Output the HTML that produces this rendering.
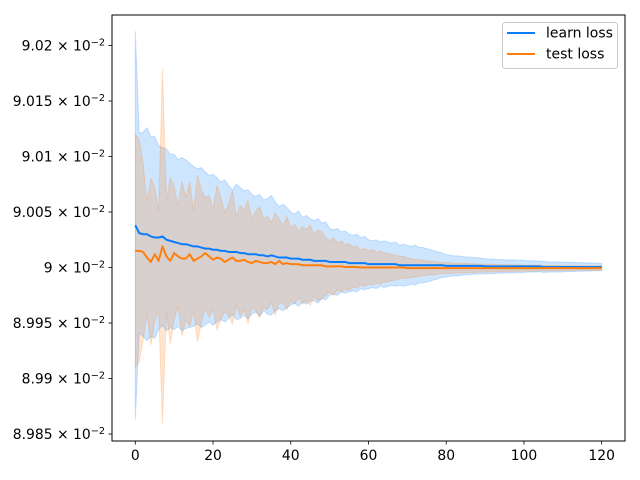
<!DOCTYPE html>
<html><head><meta charset="utf-8"><style>
html,body{margin:0;padding:0;background:#fff;}
svg{display:block;font-family:"DejaVu Sans","Liberation Sans",sans-serif;}
</style></head><body>
<svg id="chart" width="640" height="480" viewBox="0 0 640 480" xmlns="http://www.w3.org/2000/svg">
<rect x="0" y="0" width="640" height="480" fill="#fff"/>
<g id="plot"></g>
<rect x="112" y="15" width="513" height="426" fill="none" stroke="#000" stroke-width="1"/>
<g id="xticks"></g>
<g id="yticks"></g>
<g>
<rect x="502.5" y="22.5" width="115" height="46" rx="3" fill="#fff" fill-opacity="0.8" stroke="#ccc"/>
<line x1="507" y1="33" x2="535" y2="33" stroke="#0a7dfc" stroke-width="2"/>
<text x="546" y="37.5" font-size="14">learn loss</text>
<line x1="507" y1="54" x2="535" y2="54" stroke="#ff7f0e" stroke-width="2"/>
<text x="546" y="58.5" font-size="14">test loss</text>
</g>
</svg>
<script>
// values are in units of 1e-5, offset from base 0.09
const BASE = 0.09;
const UNIT = 1e-5;
const learnMean = [3.8,3.1,3.0,3.0,2.8,2.7,2.7,2.8,2.5,2.4,
2.3,2.2,2.1,2.1,2.0,1.9,1.9,1.8,1.7,1.7,
1.6,1.6,1.5,1.5,1.4,1.4,1.4,1.3,1.3,1.2,
1.2,1.2,1.1,1.1,1.0,1.1,1.0,0.9,0.9,0.9,
0.8,0.8,0.8,0.7,0.7,0.7,0.6,0.6,0.6,0.6,
0.5,0.5,0.5,0.5,0.5,0.4,0.4,0.4,0.4,0.4,
0.3,0.3,0.3,0.3,0.3,0.3,0.3,0.3,0.2,0.2,
0.2,0.2,0.2,0.2,0.2,0.2,0.2,0.2,0.2,0.2,
0.15,0.15,0.15,0.15,0.15,0.15,0.15,0.15,0.15,0.15,
0.1,0.1,0.1,0.1,0.1,0.1,0.1,0.1,0.1,0.1,
0.1,0.1,0.1,0.1,0.1,0.05,0.05,0.05,0.05,0.05,
0.05,0.05,0.05,0.05,0.05,0.05,0.05,0.05,0.05,0.05,0.05];
const learnStd = [17.5,9.0,9.2,9.6,9.0,9.1,8.3,8.0,8.2,7.8,
7.9,7.5,7.8,7.6,7.4,7.2,7.0,7.2,6.9,6.6,
6.8,6.5,6.2,6.4,6.0,5.6,6.1,5.9,5.6,5.8,
5.4,5.2,5.5,5.0,5.2,5.4,4.9,4.6,4.8,4.5,
4.2,4.0,4.3,3.8,4.0,3.7,3.6,3.8,3.4,3.5,
3.0,2.9,3.0,2.7,2.8,2.6,2.5,2.6,2.3,2.4,
2.2,2.1,2.2,2.0,2.1,2.0,1.9,2.0,1.8,1.9,
1.8,1.7,1.8,1.6,1.6,1.5,1.4,1.3,1.2,1.1,
1.0,0.95,0.9,0.9,0.85,0.8,0.8,0.75,0.75,0.7,
0.7,0.65,0.68,0.6,0.62,0.6,0.58,0.6,0.55,0.56,
0.55,0.5,0.52,0.5,0.48,0.5,0.46,0.45,0.47,0.44,
0.45,0.42,0.4,0.42,0.38,0.4,0.36,0.37,0.35,0.34,0.33];
const testMean = [1.5,1.5,1.4,0.9,0.5,1.2,0.6,1.9,1.0,0.6,
1.3,1.0,0.8,0.8,1.2,0.6,0.8,1.0,1.3,1.0,
0.7,0.9,0.8,0.5,0.7,0.9,0.6,0.6,0.7,0.5,
0.4,0.6,0.5,0.4,0.4,0.5,0.3,0.6,0.3,0.4,
0.3,0.3,0.3,0.2,0.2,0.2,0.2,0.2,0.2,0.1,
0.1,0.1,0.1,0.1,0.05,0.05,0.05,0.05,0.0,0.0,
0.0,0.0,0.0,0.0,0.0,0.0,0.0,0.0,0.0,0.0,
-0.05,-0.05,-0.05,-0.05,-0.05,-0.05,-0.05,-0.05,-0.05,-0.05,
-0.05,-0.05,-0.05,-0.05,-0.05,-0.05,-0.05,-0.05,-0.05,-0.05,
-0.05,-0.05,-0.05,-0.05,-0.05,-0.05,-0.05,-0.05,-0.05,-0.05,
-0.05,-0.05,-0.05,-0.05,-0.05,-0.05,-0.05,-0.05,-0.05,-0.05,
-0.05,-0.05,-0.05,-0.05,-0.05,-0.05,-0.05,-0.05,-0.05,-0.05,-0.05];
const testStd = [10.5,10,8,5,7.5,6,4.5,16,5,7.5,
6,4.5,7,5.5,6.5,4.5,7.5,6,5,5.5,
4.5,6.5,5.5,4.5,5,6,4,5,4.5,5.5,
4,4.5,5,4,4.2,3.6,4.6,3.8,3.5,4.2,
3.3,3.6,3.0,3.5,3.2,3.6,2.8,3.2,3.0,2.6,
2.3,2.6,2.1,2.3,2.0,2.1,1.8,1.9,1.6,1.7,
1.5,1.6,1.4,1.5,1.3,1.3,1.2,1.1,1.0,1.0,
0.9,0.85,0.8,0.75,0.7,0.65,0.6,0.6,0.55,0.5,
0.5,0.48,0.46,0.45,0.44,0.42,0.4,0.4,0.38,0.37,
0.36,0.35,0.34,0.33,0.32,0.31,0.3,0.3,0.29,0.28,
0.27,0.27,0.26,0.25,0.25,0.24,0.24,0.23,0.23,0.22,
0.22,0.21,0.21,0.21,0.2,0.2,0.2,0.2,0.2,0.2,0.2];
const xTicks = [0,20,40,60,80,100,120];
const yTickMant = ["8.985","8.99","8.995","9","9.005","9.01","9.015","9.02"];
const yTickVals = [0.08985,0.0899,0.08995,0.09,0.09005,0.0901,0.09015,0.0902];

const NS = "http://www.w3.org/2000/svg";
const L=112,R=625,T=15,B=441;
const n = learnMean.length;
const xmin = -(n-1)*0.05, xmax = (n-1)*1.05;
const ymin = 0.0898437, ymax = 0.0902275;
function X(v){return L+(v-xmin)/(xmax-xmin)*(R-L);}
function Y(v){return B-(v-ymin)/(ymax-ymin)*(B-T);}
function mk(tag,attrs,parent){const e=document.createElementNS(NS,tag);for(const k in attrs)e.setAttribute(k,attrs[k]);parent.appendChild(e);return e;}
const plot=document.getElementById('plot');
function band(mean,std,color,name){
  let up=[],lo=[];
  for(let i=0;i<n;i++){up.push(X(i)+','+Y(BASE+(mean[i]+std[i])*UNIT));lo.unshift(X(i)+','+Y(BASE+(mean[i]-std[i])*UNIT));}
  const p=mk('polygon',{points:up.concat(lo).join(' '),fill:color,'fill-opacity':0.2,stroke:color,'stroke-opacity':0.2,'stroke-width':1},plot);
  
  
}
function line(mean,color,name){
  let pts=[];for(let i=0;i<n;i++)pts.push(X(i)+','+Y(BASE+mean[i]*UNIT));
  const p=mk('polyline',{points:pts.join(' '),fill:'none',stroke:color,'stroke-width':2,'stroke-linejoin':'round'},plot);
  
  
}
band(learnMean,learnStd,'#0a7dfc','learn-loss-band');
band(testMean,testStd,'#ff7f0e','test-loss-band');
line(learnMean,'#0a7dfc','learn-loss-line');
line(testMean,'#ff7f0e','test-loss-line');
const xg=document.getElementById('xticks');
xTicks.forEach(t=>{
  const x=X(t);
  const l=mk('line',{x1:x,y1:B,x2:x,y2:B+3.5,stroke:'#000','stroke-width':0.8},xg);
  
  
  const tx=mk('text',{x:x,y:B+19,'font-size':13.9,'text-anchor':'middle'},xg);
  tx.textContent=String(t);
  
  
});
const yg=document.getElementById('yticks');
yTickVals.forEach((v,i)=>{
  const y=Y(v);
  const l=mk('line',{x1:L-3.5,y1:y,x2:L,y2:y,stroke:'#000','stroke-width':0.8},yg);
  
  
  const tx=mk('text',{x:L-7,y:y+5,'font-size':13.9,'text-anchor':'end'},yg);
  
  
  const a=document.createElementNS(NS,'tspan');a.textContent=yTickMant[i]+' \u00d7 10';tx.appendChild(a);
  const s=document.createElementNS(NS,'tspan');s.setAttribute('dy','-5');s.setAttribute('font-size','9.7');s.textContent='\u22122';tx.appendChild(s);
});
</script>
</body></html>
